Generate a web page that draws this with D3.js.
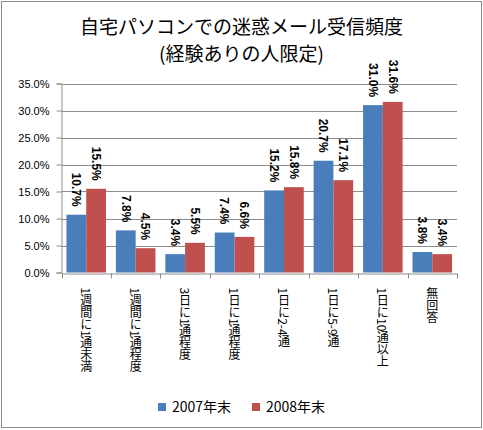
<!DOCTYPE html>
<html>
<head>
<meta charset="utf-8">
<script src="https://cdn.jsdelivr.net/npm/d3@7"></script>
<style>
    body { margin: 0; background: #fff; }
    svg { display: block; }
</style>
</head>
<body>
<div class="chart"></div>
<script>
let categories = ['1週間に1通未満', '1週間に1通程度', '3日に1通程度', '1日に1通程度', '1日に2-4通', '1日に5-9通', '1日に10通以上', '無回答'];
let series_names = ['2007年末', '2008年末'];
let values_2007 = [10.7, 7.8, 3.4, 7.4, 15.2, 20.7, 31.0, 3.8];
let values_2008 = [15.5, 4.5, 5.5, 6.6, 15.8, 17.1, 31.6, 3.4];
let y_ticks = [0, 5, 10, 15, 20, 25, 30, 35];
let title_lines = ['自宅パソコンでの迷惑メール受信頻度', '(経験ありの人限定)'];

let width = 483, height = 430;
let colors = ['#4A7EBB', '#C0504D'];
let jpFont = '"Noto Sans CJK JP", sans-serif';
let numFont = '"Liberation Sans", Arial, sans-serif';
let padding = {'left': 61.5, 'right': 26, 'top': 83.5, 'bottom': 157.5};

let svg = d3.select('.chart')
    .append('svg')
    .attr('width', width)
    .attr('height', height);

// outer frame
svg.append('rect')
    .attr('x', 1.5).attr('y', 1.5)
    .attr('width', width - 3).attr('height', height - 4)
    .attr('fill', '#fff')
    .attr('stroke', '#8c8c8c');

// title
svg.append('g')
    .selectAll('text')
    .data(title_lines)
    .enter().append('text')
    .attr('x', width / 2)
    .attr('y', (d, i) => 34 + i * 27)
    .attr('text-anchor', 'middle')
    .attr('font-family', jpFont)
    .attr('font-size', '19px')
    .attr('fill', '#000')
    .text(d => d);

let x = d3.scaleBand()
    .domain(categories)
    .range([padding.left, width - padding.right])
    .paddingInner(0.2)
    .paddingOuter(0.1);
let x_full = d3.scaleBand()
    .domain(categories)
    .range([padding.left, width - padding.right]);
let x_sub = d3.scaleBand()
    .domain(series_names)
    .range([0, x.bandwidth()]);
let y = d3.scaleLinear()
    .domain([0, 35])
    .range([height - padding.bottom, padding.top]);

// gridlines
svg.append('g')
    .selectAll('line')
    .data(y_ticks.slice(1))
    .enter().append('line')
    .attr('x1', padding.left)
    .attr('x2', width - padding.right)
    .attr('y1', d => Math.round(y(d)) + 0.5)
    .attr('y2', d => Math.round(y(d)) + 0.5)
    .attr('stroke', '#8c8c8c');

// y axis
let axis_y = d3.axisLeft()
    .scale(y)
    .tickValues(y_ticks)
    .tickSize(5)
    .tickPadding(7)
    .tickFormat(d => d.toFixed(1) + '%');
let gy = svg.append('g')
    .attr('transform', `translate(${padding.left}, 0)`)
    .call(axis_y)
    .attr('font-family', numFont)
    .attr('font-size', '11px');
gy.select('.domain').attr('stroke', '#8c8c8c');
gy.selectAll('.tick line').attr('stroke', '#8c8c8c');
gy.selectAll('.tick text').attr('fill', '#000');

// bars
let data = categories.map((c, i) => ({'cat': c, 'vals': [values_2007[i], values_2008[i]]}));
let groups = svg.append('g')
    .selectAll('g')
    .data(data)
    .enter().append('g')
    .attr('transform', d => `translate(${x(d.cat)}, 0)`);

groups.selectAll('rect')
    .data(d => d.vals.map((v, j) => ({'s': series_names[j], 'v': v, 'j': j})))
    .enter().append('rect')
    .attr('x', d => x_sub(d.s))
    .attr('width', x_sub.bandwidth())
    .attr('y', d => y(d.v))
    .attr('height', d => y(0) - y(d.v))
    .attr('fill', d => colors[d.j]);

// value labels, rotated
groups.selectAll('text')
    .data(d => d.vals.map((v, j) => ({'s': series_names[j], 'v': v})))
    .enter().append('text')
    .attr('transform', d => `translate(${x_sub(d.s) + x_sub.bandwidth() / 2}, ${y(d.v) - 8}) rotate(90)`)
    .attr('text-anchor', 'end')
    .attr('dy', '0.35em')
    .attr('font-family', numFont)
    .attr('font-weight', 'bold')
    .attr('font-size', '12px')
    .attr('fill', '#000')
    .text(d => d.v.toFixed(1) + '%');

// x axis
let axis_x = d3.axisBottom()
    .scale(x_full)
    .tickSize(0)
    .tickFormat('');
let gx = svg.append('g')
    .attr('transform', `translate(0, ${Math.round(y(0)) + 0.5})`)
    .call(axis_x);
gx.select('.domain').attr('stroke', '#8c8c8c');
gx.selectAll('.tick').remove();
gx.append('g')
    .selectAll('line')
    .data(categories.map(c => x_full(c)).concat([width - padding.right]))
    .enter().append('line')
    .attr('x1', d => Math.round(d) + 0.5)
    .attr('x2', d => Math.round(d) + 0.5)
    .attr('y1', 0)
    .attr('y2', 5)
    .attr('stroke', '#8c8c8c');

// category labels, vertical writing
svg.append('g')
    .selectAll('text')
    .data(categories)
    .enter().append('text')
    .attr('x', d => x_full(d) + x_full.bandwidth() / 2)
    .attr('y', height - padding.bottom + 15)
    .style('writing-mode', 'vertical-rl')
    .attr('font-family', jpFont)
    .attr('font-size', '12px')
    .attr('fill', '#000')
    .text(d => d);

// legend
let legend = svg.append('g')
    .attr('transform', `translate(158, 407)`);
let items = legend.selectAll('g')
    .data(series_names)
    .enter().append('g')
    .attr('transform', (d, i) => `translate(${i * 94}, 0)`);
items.append('rect')
    .attr('x', 0).attr('y', -4)
    .attr('width', 8).attr('height', 8)
    .attr('fill', (d, i) => colors[i]);
items.append('text')
    .attr('x', 14)
    .attr('y', 0)
    .attr('dy', '0.35em')
    .attr('font-family', jpFont)
    .attr('font-size', '14px')
    .attr('fill', '#000')
    .text(d => d);
</script>
</body>
</html>
